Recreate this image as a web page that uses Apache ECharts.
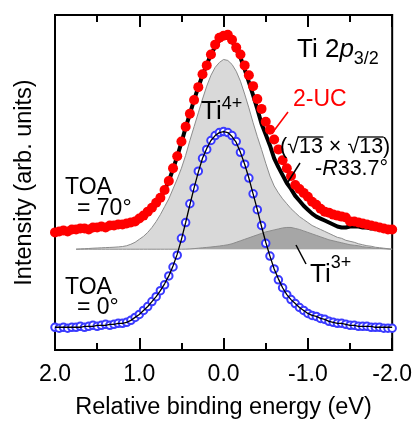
<!DOCTYPE html>
<html>
<head>
<meta charset="utf-8">
<script src="https://cdn.jsdelivr.net/npm/echarts@6/dist/echarts.min.js"></script>
<style>
html,body{margin:0;padding:0;background:#fff;}
#chart{width:415px;height:425px;}
</style>
</head>
<body>
<div id="chart"></div>
<script>
// Relative binding energy (eV) grid
var energy = [2.00,1.95,1.90,1.85,1.80,1.75,1.70,1.65,1.60,1.55,
  1.50,1.45,1.40,1.35,1.30,1.25,1.20,1.15,1.10,1.05,
  1.00,0.95,0.90,0.85,0.80,0.75,0.70,0.65,0.60,0.55,
  0.50,0.45,0.40,0.35,0.30,0.25,0.20,0.15,0.10,0.05,
  0.00,-0.05,-0.10,-0.15,-0.20,-0.25,-0.30,-0.35,-0.40,-0.45,
  -0.50,-0.55,-0.60,-0.65,-0.70,-0.75,-0.80,-0.85,-0.90,-0.95,
  -1.00,-1.05,-1.10,-1.15,-1.20,-1.25,-1.30,-1.35,-1.40,-1.45,
  -1.50,-1.55,-1.60,-1.65,-1.70,-1.75,-1.80,-1.85,-1.90,-1.95,-2.00];

// 2-UC, TOA = 70° (red dots)
var uc70 = [119,120,121,120,122,122,123,123,122,124,
  124,125,124,126,126,127,127,128,129,130,
  133,136,140,144,149,154,162,171,184,196,
  211,226,239,253,266,279,288,299,309,316,
  318,319,314,306,299,288,278,267,254,244,
  231,223,213,203,192,184,176,167,163,159,
  155,150,147,143,140,139,137,136,135,134,
  130,130,129,128,127,126,125,124,123,122,122];

// fit line for TOA = 70° (thick black)
var fit70 = [120,120,121,121,122,122,122,123,123,124,
  124,125,125,125,126,126,127,128,129,130,
  133,136,140,144,149,155,162,171,183,196,
  210,225,239,253,266,278,289,299,307,313,
  316,316,313,304,296,284,271,258,244,229,
  218,207,194,185,177,169,163,156,151,146,
  142,138,135,133,131,129,127,125,124,124,
  125,125,125,124,124,123,123,122,122,121,121];

// TOA = 0° (blue open circles)
var toa0 = [23,22,23,22,23,23,24,23,24,25,
  24,25,26,25,26,27,27,28,30,33,
  36,40,44,49,54,60,66,75,84,96,
  113,129,148,164,181,194,203,212,217,220,
  221,220,217,211,200,188,174,158,142,126,
  108,95,82,71,63,56,51,47,43,40,
  37,35,34,32,31,29,28,27,27,26,
  25,25,24,24,24,23,23,23,22,22,22];

// fit line for TOA = 0° (thin black)
var fit0 = [23,23,23,23,23,23,23,24,24,24,
  25,25,25,26,26,27,27,28,30,33,
  36,40,44,49,54,60,67,75,85,97,
  112,129,147,164,180,194,204,212,217,220,
  221,220,216,210,200,188,174,158,142,125,
  109,95,82,72,63,56,51,47,43,40,
  37,35,34,32,31,29,28,27,27,26,
  25,25,24,24,24,24,23,23,23,23,23];

// Ti4+ component envelope (light gray)
var ti4 = [null,null,null,null,null,102,102.3,102.5,102.7,103,
  103.2,103.4,103.6,103.8,104,104.3,104.7,105.5,107,109,
  112,115,119,124,130,137,145,153,163,173,
  184,197,212,226,240,254,267,278,286,291,
  294,293,289,282,272,259,245,230,216,203,
  189,176,166,159,153,148,143,139,135,132,
  129,126,124,122,120,118,116,114,113,111,
  110,109,107.5,106.5,105.5,105,104,103.5,103,102.5,102];

// Ti3+ component (dark gray)
var ti3 = [null,null,null,null,null,102,102,102,102,102,
  102,102,102,102,102,102,102,102,102,102,
  102,102,102,102,102,102,102,102,102,102,
  102,102.1,102.3,102.6,103,103.4,103.8,104.2,104.7,105.2,
  105.8,106.5,107.5,109,110.5,112,113.5,115,116.5,118,
  119.5,120.5,121.5,122.5,123.5,124,124,123,122,120.5,
  119,117.5,116,114.5,113,111.5,110.5,109.5,108.5,107.5,
  106.5,106,105.5,104.5,104,103.5,103,102.8,102.5,102.2,102];

var componentBase = 102;

function pairs(arr) {
  var out = [];
  for (var i = 0; i < energy.length; i++) out.push([energy[i], arr[i]]);
  return out;
}

var FONT = '"Liberation Sans", Arial, sans-serif';
var chart = echarts.init(document.getElementById('chart'), null, {renderer: 'canvas'});

var xCommon = {
  type: 'value', min: -2, max: 2, interval: 1, inverse: true,
  axisLine: {show: true, onZero: false, lineStyle: {color: '#000', width: 2}},
  axisTick: {show: true, inside: true, length: 12, lineStyle: {color: '#000', width: 2}},
  minorTick: {show: true, splitNumber: 2, length: 7, lineStyle: {color: '#000', width: 2}},
  splitLine: {show: false}
};

var option = {
  animation: false,
  backgroundColor: '#fff',
  grid: {left: 55, top: 15, right: 21, bottom: 71, show: true, borderColor: '#000', borderWidth: 2, backgroundColor: 'transparent'},
  xAxis: [
    Object.assign({}, xCommon, {
      position: 'bottom',
      name: 'Relative binding energy (eV)',
      nameLocation: 'middle', nameGap: 46,
      nameTextStyle: {color: '#000', fontSize: 23.5, fontFamily: FONT},
      axisLabel: {show: true, margin: 13, color: '#000', fontSize: 23, fontFamily: FONT,
        formatter: function (v) { return v.toFixed(1); }}
    }),
    Object.assign({}, xCommon, {position: 'top', axisLabel: {show: false}})
  ],
  yAxis: {
    type: 'value', min: 0, max: 339,
    name: 'Intensity (arb. units)', nameLocation: 'middle', nameGap: 18, nameRotate: 90,
    nameTextStyle: {color: '#000', fontSize: 23.5, fontFamily: FONT},
    axisLine: {show: true, onZero: false, lineStyle: {color: '#000', width: 2}},
    axisTick: {show: false}, axisLabel: {show: false}, splitLine: {show: false}
  },
  series: [
    {type: 'line', data: pairs(ti4), showSymbol: false, symbol: 'none', z: 1,
      lineStyle: {color: '#8c8c8c', width: 1},
      areaStyle: {color: '#d9d9d9', opacity: 1, origin: componentBase}},
    {type: 'line', data: pairs(ti3), showSymbol: false, symbol: 'none', z: 2,
      lineStyle: {color: '#8c8c8c', width: 1},
      areaStyle: {color: '#a6a6a6', opacity: 1, origin: componentBase}},
    {type: 'scatter', data: pairs(toa0), symbol: 'emptyCircle', symbolSize: 7.5, z: 3,
      itemStyle: {color: '#3a3aff', borderColor: '#3a3aff', borderWidth: 0.9, opacity: 1}},
    {type: 'line', data: pairs(fit0), showSymbol: false, symbol: 'none', z: 4,
      lineStyle: {color: '#000', width: 1.3}},
    {type: 'line', data: pairs(fit70), showSymbol: false, symbol: 'none', z: 5,
      lineStyle: {color: '#000', width: 4}},
    {type: 'scatter', data: pairs(uc70), symbol: 'circle', symbolSize: 10, z: 6,
      itemStyle: {color: '#ff0000', borderWidth: 0, opacity: 1}}
  ]
};
chart.setOption(option);

var mctx = document.createElement('canvas').getContext('2d');
function tw(s, size) { mctx.font = size + 'px ' + FONT; return mctx.measureText(s).width; }

function txt(x, y, s, size, extra) {
  var st = {text: s, x: x, y: y, fill: '#000', fontSize: size, fontFamily: FONT, verticalAlign: 'middle', align: 'left'};
  if (extra) for (var k in extra) st[k] = extra[k];
  return {type: 'text', z: 100, style: st};
}
function seg(x1, y1, x2, y2, color, w) {
  return {type: 'line', z: 100, shape: {x1: x1, y1: y1, x2: x2, y2: y2}, style: {stroke: color, lineWidth: w}};
}

// (√13 × √13) with vinculum over 13
var rs = 21.5, rx = 280, ry = 147;
var a1 = rx + tw('(\u221A', rs), b1 = rx + tw('(\u221A13', rs);
var a2 = rx + tw('(\u221A13 \u00D7 \u221A', rs), b2 = rx + tw('(\u221A13 \u00D7 \u221A13', rs);
var ovY = ry - 10;

var gx = 297, gs = 26;
var pX = gx + tw('Ti 2', gs), sX = pX + tw('p', gs);

chart.setOption({
  graphic: [
    txt(gx, 50, 'Ti 2', gs),
    txt(pX, 50, 'p', gs, {fontStyle: 'italic'}),
    txt(sX, 59, '3/2', 18),
    txt(201, 112, 'Ti', 26),
    txt(201 + tw('Ti', 26), 104, '4+', 18),
    txt(293, 100, '2-UC', 23, {fill: '#ff0000'}),
    seg(288, 112, 273, 132, '#ff0000', 1.5),
    txt(rx, ry, '(\u221A13 \u00D7 \u221A13)', rs),
    seg(a1 - 1, ovY, b1 + 0.5, ovY, '#000', 1.3),
    seg(a2 - 1, ovY, b2 + 0.5, ovY, '#000', 1.3),
    txt(315, 169, '-{i|R}33.7\u00B0', 21.5, {rich: {i: {fontStyle: 'italic', fontSize: 21.5, fontFamily: FONT}}}),
    seg(300, 163, 288, 182, '#000', 1.5),
    txt(65, 188, 'TOA', 23),
    txt(77, 209, '= 70\u00B0', 23),
    txt(65, 288, 'TOA', 23),
    txt(77, 308, '= 0\u00B0', 23),
    txt(310, 275, 'Ti', 26),
    txt(310 + tw('Ti', 26), 263, '3+', 18),
    seg(296, 245, 306, 264, '#000', 1.5)
  ]
});
</script>
</body>
</html>
